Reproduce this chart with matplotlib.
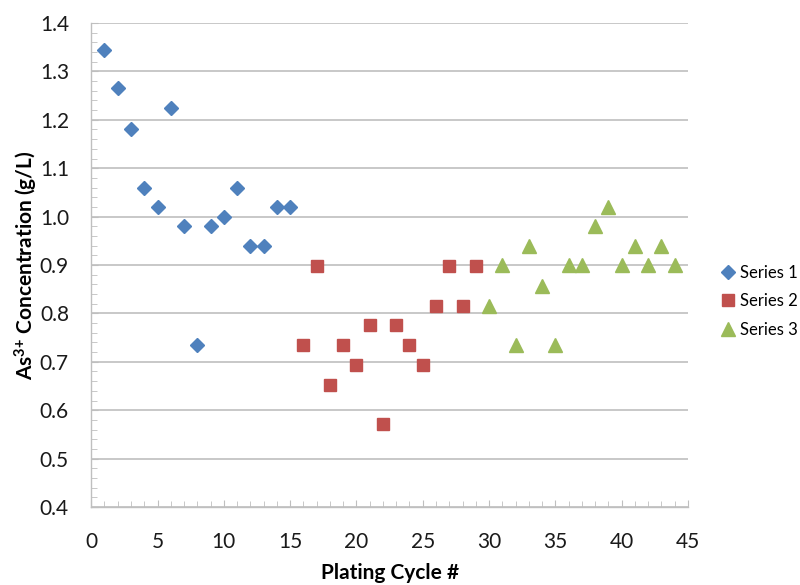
import numpy as np
import matplotlib
matplotlib.use("Agg")
import matplotlib.pyplot as plt
from matplotlib.ticker import MultipleLocator, FormatStrFormatter

plt.rcParams['font.family'] = ['Lato', 'DejaVu Sans']
plt.rcParams['mathtext.fontset'] = 'custom'
plt.rcParams['mathtext.rm'] = 'Lato'
plt.rcParams['mathtext.bf'] = 'Lato:bold'

# plating cycles and As3+ concentration (g/L)
cyc1 = [1, 2, 3, 4, 5, 6, 7, 8, 9, 10, 11, 12, 13, 14, 15]
conc1 = [1.345, 1.265, 1.18, 1.06, 1.02, 1.225, 0.98, 0.735, 0.98, 1.00,
         1.06, 0.94, 0.94, 1.02, 1.02]
cyc2 = [16, 17, 18, 19, 20, 21, 22, 23, 24, 25, 26, 27, 28, 29]
conc2 = [0.735, 0.897, 0.653, 0.735, 0.694, 0.776, 0.571, 0.776, 0.735,
         0.694, 0.816, 0.897, 0.816, 0.897]
cyc3 = [30, 31, 32, 33, 34, 35, 36, 37, 38, 39, 40, 41, 42, 43, 44]
conc3 = [0.816, 0.90, 0.735, 0.94, 0.857, 0.735, 0.90, 0.90, 0.98, 1.02,
         0.90, 0.94, 0.90, 0.94, 0.90]

fig = plt.figure(figsize=(8, 5.85), dpi=100)
ax = fig.add_axes([0.114, 0.1333, 0.746, 0.8274])

ax.plot(cyc1, conc1, 'D', color='#4F81BD', ms=6.8, ls='none', label='Series 1')
ax.plot(cyc2, conc2, 's', color='#C0504D', ms=9, ls='none', label='Series 2')
ax.plot(cyc3, conc3, '^', color='#9BBB59', ms=10, ls='none', label='Series 3')

ax.set_xlim(0, 45)
ax.set_ylim(0.4, 1.4)
ax.xaxis.set_major_locator(MultipleLocator(5))
ax.xaxis.set_minor_locator(MultipleLocator(1))
ax.yaxis.set_major_locator(MultipleLocator(0.1))
ax.yaxis.set_minor_locator(MultipleLocator(0.02))
ax.yaxis.set_major_formatter(FormatStrFormatter('%.1f'))

ax.grid(axis='y', which='major', color='#BFBFBF', lw=1.2)
ax.set_axisbelow(True)
for s in ['top', 'right']:
    ax.spines[s].set_visible(False)
for s in ['left', 'bottom']:
    ax.spines[s].set_color('#BFBFBF')
    ax.spines[s].set_linewidth(1.0)

ax.tick_params(which='both', direction='in', color='#BFBFBF', labelsize=15,
               labelcolor='#1a1a1a')
ax.tick_params(which='major', length=5)
ax.tick_params(which='minor', length=4)
ax.tick_params(axis='y', pad=16)
ax.tick_params(axis='x', pad=18)

ax.set_xlabel('Plating Cycle #', fontsize=15, fontweight='bold', labelpad=8)
ax.set_ylabel(r'As$\mathbf{^{3{+}}}$ Concentration (g/L)', fontsize=15,
              fontweight='bold', labelpad=0)

ax.legend(loc='center left', bbox_to_anchor=(1.025, 0.4256), frameon=False,
          fontsize=12, handletextpad=0.1, labelspacing=0.75, handlelength=1.2)

fig.savefig('out.png', dpi=100)
